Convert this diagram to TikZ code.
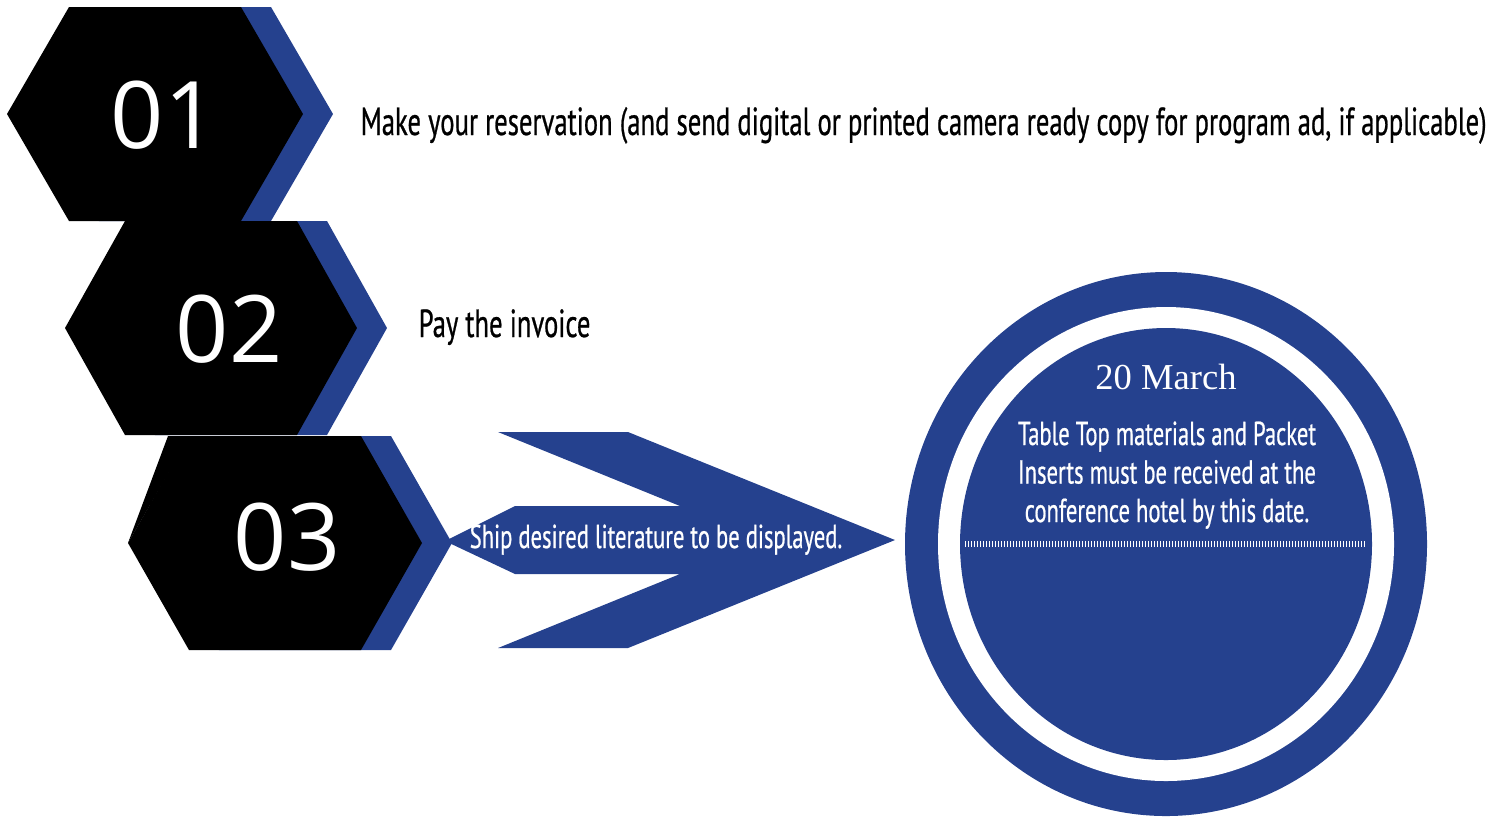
\documentclass[tikz,border=0pt]{standalone}
\usepackage{fontspec}
\newfontfamily\numfont{Open Sans}
\newfontfamily\condfont[FakeStretch=0.68, FakeBold=0.6]{PT Sans}
\newfontfamily\datefont{Liberation Serif}
\definecolor{navy}{RGB}{37,65,142}

\begin{document}
\begin{tikzpicture}[x = 0.01cm, y = -0.01cm, inner sep = 0pt]
\useasboundingbox (0, 0) rectangle (1504, 817);
% hexagons, blue copy behind
\foreach \n/\cx/\cy/\hw/\nx/\ny in {1/155/114/148/164/148,
                                  2/211/328/146/229/362,
                                  3/275/543/147/287/570}
{
    \fill[navy, shift = {(30, 0)}] (\cx - 86, \cy - 107) -- (\cx + 86, \cy - 107) -- (\cx + \hw, \cy)
        -- (\cx + 86, \cy + 107) -- (\cx - 86, \cy + 107) -- (\cx - \hw, \cy) -- cycle;
    \fill (\cx - 86, \cy - 107) -- (\cx + 86, \cy - 107) -- (\cx + \hw, \cy)
        -- (\cx + 86, \cy + 107) -- (\cx - 86, \cy + 107) -- (\cx - \hw, \cy) -- cycle;
    \node[anchor = base, text = white, font = \numfont\fontsize{26.5}{30}\selectfont] (num\n) at (\nx, \ny) {0\n};
}
\fill (168, 436) -- (190, 436) -- (128, 543) -- cycle;
\node[anchor = base west, font = \condfont\fontsize{11.15}{13}\selectfont] (step1) at (360, 135)
    {Make your reservation (and send digital or printed camera ready copy for program ad, if applicable)};
\node[anchor = base west, font = \condfont\fontsize{11.15}{13}\selectfont] (step2) at (418, 337) {Pay the invoice};
% arrow
\fill[navy] (498, 432) -- (628, 432) -- (895, 540) -- (628, 648) -- (498, 648) -- (680, 574)
    -- (515, 574) -- (445, 541) -- (515, 506) -- (680, 506) -- cycle;
\node[anchor = base, text = white, font = \condfont\fontsize{9.45}{11}\selectfont] (step3) at (656, 548)
    {Ship desired literature to be displayed.};
% deadline disc
\fill[navy] (1166, 544) ellipse[x radius = 261, y radius = 272];
\fill[white] (1166, 544) ellipse[x radius = 228, y radius = 237];
\fill[navy] (1166, 544) ellipse[x radius = 206, y radius = 216];
\node[anchor = base, text = white, font = \datefont\fontsize{10.4}{12}\selectfont] (date) at (1166, 389) {20 March};
\foreach \i/\txt in {1/Table Top materials and Packet,
                     2/Inserts must be received at the,
                     3/conference hotel by this date.}
    \node[anchor = base, text = white, font = \condfont\fontsize{9.45}{11}\selectfont] (note\i) at (1167, 406.5 + 38.5 * \i) {\txt};
\draw[white, line width = 1.7pt, dash pattern = on 0.3pt off 0.5535pt] (965, 544) -- (1366, 544);
\end{tikzpicture}
\end{document}
